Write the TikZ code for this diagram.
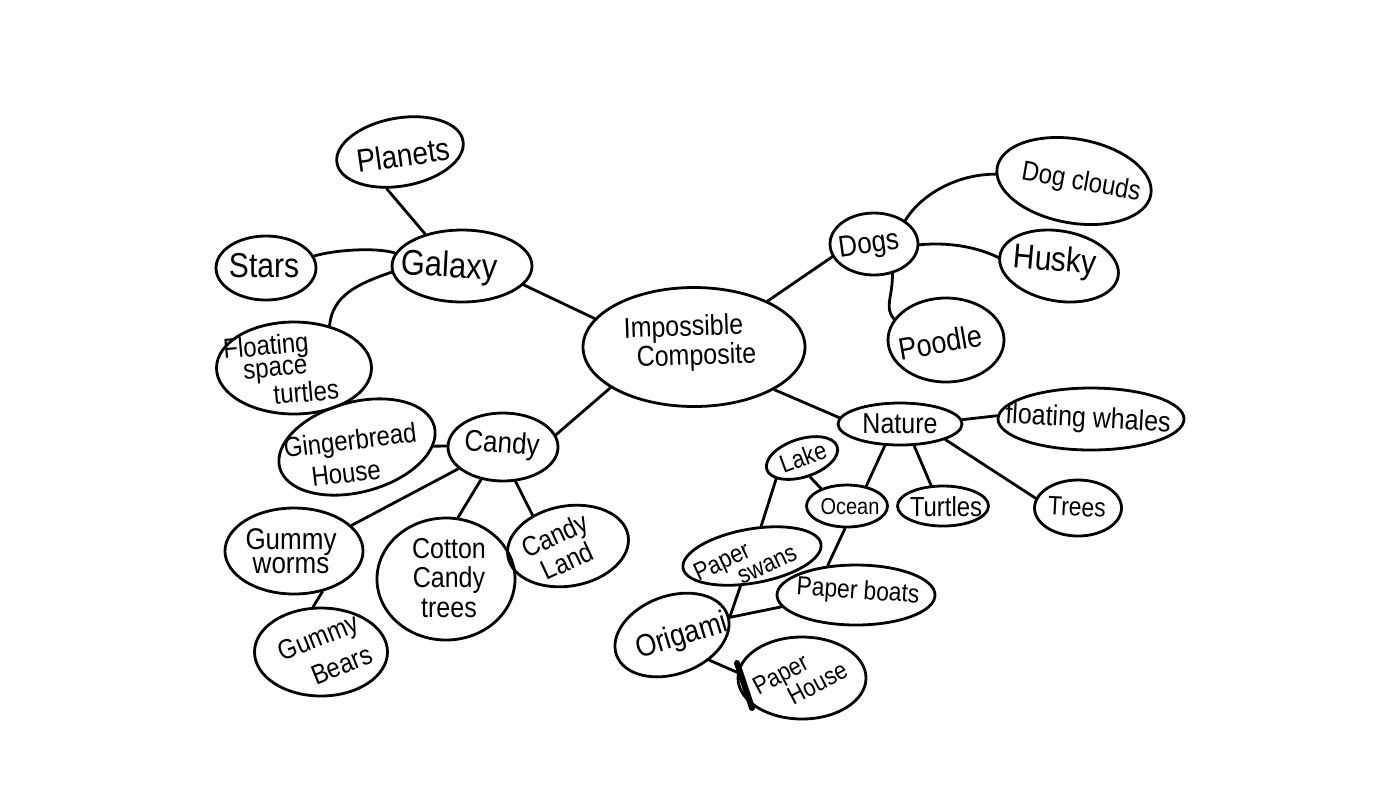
\documentclass[tikz,border=0pt]{standalone}
\usepackage{fontspec}
\setmainfont{Liberation Sans}
\usetikzlibrary{shapes.geometric}
\begin{document}
\begin{tikzpicture}[x=0.5pt,y=-0.5pt,
  bub/.style 2 args={draw, ellipse, line width=1.4pt, inner sep=0pt,
    minimum width={#1*0.5pt}, minimum height={#2*0.5pt}},
  txt/.style={inner sep=0pt, font=\fontsize{#1}{#1}\selectfont},
  txtb/.style 2 args={inner sep=0pt, font=\fontsize{#1}{#2}\selectfont},
  tall/.style={yscale=1.15},
  con/.style={line width=1.4pt, line cap=round}]
\fill[white] (0,0) rectangle (1400,800);
\useasboundingbox (0,0) rectangle (1400,800);

% bubbles
\node[bub={222}{119}] (imp) at (694,347) {};
\node[bub={140}{72}] (galaxy) at (462,266) {};
\node[bub={128}{68}, rotate=10] (planets) at (400,152) {};
\node[bub={100}{64}] (stars) at (266,268) {};
\node[bub={155}{92}] (fst) at (294,368) {};
\node[bub={110}{68}] (candy) at (503,447) {};
\node[bub={160}{90}, rotate=15] (ginger) at (357,447) {};
\node[bub={138}{86}] (worms) at (294,551) {};
\node[bub={133}{88}] (bears) at (321,652) {};
\node[bub={138}{122}] (cotton) at (446,579) {};
\node[bub={122}{80}, rotate=10] (candyland) at (568,546) {};
\node[bub={88}{62}] (dogs) at (874,244) {};
\node[bub={156}{84}, rotate=-10] (dogclouds) at (1074,181) {};
\node[bub={120}{70}, rotate=-10] (husky) at (1059,266) {};
\node[bub={116}{84}] (poodle) at (946,340) {};
\node[bub={124}{42}] (nature) at (900,424) {};
\node[bub={186}{62}] (whales) at (1091,419) {};
\node[bub={87}{56}] (trees) at (1078,508) {};
\node[bub={91}{40}] (turtles) at (943,506) {};
\node[bub={81}{42}] (ocean) at (847,506) {};
\node[bub={74}{38}, rotate=18] (lake) at (802,458) {};
\node[bub={140}{54}, rotate=10] (swans) at (752,556) {};
\node[bub={158}{60}] (boats) at (856,595) {};
\node[bub={118}{78}, rotate=20] (origami) at (672,635) {};
\node[bub={128}{82}] (house) at (802,678) {};

% texts
\node[txtb={12.5}{11.5}, align=left, rotate=2, tall] (impT) at (690,343)
  {Impossible\\\hspace*{6pt}Composite};
\node[txt=15.5, rotate=-3, tall] (galaxyT) at (449,268) {Galaxy};
\node[txt=14, rotate=8, tall] (planetsT) at (403,155) {Planets};
\node[txt=15, tall] (starsT) at (264,266) {Stars};
\node[txtb={12}{9.5}, align=left, rotate=5, tall] (fstT) at (281,369)
  {Floating\\\hspace*{9pt}space\\\hspace*{23pt}turtles};
\node[txt=13, rotate=-4, tall] (candyT) at (502,445) {Candy};
\node[txtb={12}{14}, align=left, rotate=7, tall] (gingerT) at (352,456)
  {Gingerbread\\\hspace*{12pt}House};
\node[txtb={13}{9.5}, align=center, tall] (wormsT) at (291,551) {Gummy\\worms};
\node[txtb={12}{14.8}, align=left, rotate=22, tall] (bearsT) at (325,653)
  {Gummy\\\hspace*{11pt}Bears};
\node[txtb={12.5}{12.8}, align=center, tall] (cottonT) at (449,578)
  {Cotton\\Candy\\trees};
\node[txtb={12}{10.4}, align=center, rotate=25, tall] (clT) at (561,548) {Candy\\Land};
\node[txt=13, rotate=8, tall] (dogsT) at (869,246) {Dogs};
\node[txt=12, rotate=-10, tall] (dogcloudsT) at (1081,183) {Dog clouds};
\node[txt=15, rotate=-5, tall] (huskyT) at (1055,262) {Husky};
\node[txt=13.5, rotate=10, tall] (poodleT) at (940,342) {Poodle};
\node[txt=12.5, tall] (natureT) at (900,424) {Nature};
\node[txt=12.5, rotate=-3, tall] (whalesT) at (1088,420) {floating whales};
\node[txt=11.5, rotate=-3, tall] (treesT) at (1077,507) {Trees};
\node[txt=12, tall] (turtlesT) at (946,507) {Turtles};
\node[txt=10, tall] (oceanT) at (850,507) {Ocean};
\node[txt=11, rotate=20, tall] (lakeT) at (803,457) {Lake};
\node[txtb={11}{9.4}, align=left, rotate=25, tall] (swansT) at (745,562)
  {Paper\\\hspace*{19pt}swans};
\node[txt=11.4, rotate=-4, tall] (boatsT) at (858,592) {Paper boats};
\node[txt=13.5, rotate=17, tall] (origamiT) at (682,637) {Origami};
\node[txtb={11}{11}, align=left, rotate=28, tall] (houseT) at (800,678)
  {Paper\\\hspace*{13pt}House};

% connectors
\draw[con] (imp.164) -- (galaxy.-17);
\draw[con] (imp.32) -- (dogs.197);
\draw[con] (imp.206) -- (candy.13);
\draw[con] (imp.-28) -- (nature.174);
\draw[con] (galaxy.139) -- (planets.-120);
\draw[con] (stars.14) .. controls +(20,-6) and +(-20,-6) .. (galaxy.169);
\draw[con] (galaxy.185) .. controls +(-35,12) and +(3,-30) .. (fst.50);
\draw[con] (candy.179) -- (ginger);
\draw[con] (candy.206) -- (worms.24);
\draw[con] (candy.-124) -- (cotton.79);
\draw[con] (candy.-70) -- (candyland.129);
\draw[con] (worms.-55) -- (bears.100);
\draw[con] (dogs.37) .. controls +(15,-25) and +(-40,0) .. (dogclouds.185);
\draw[con] (dogs.-1) .. controls +(30,-3) and +(-20,-10) .. (husky.182);
\draw[con] (dogs.-58) .. controls +(0,25) and +(-10,-12) .. (poodle.158);
\draw[con] (nature.4) -- (whales.178);
\draw[con] (nature.-19) -- (trees.167);
\draw[con] (nature.-57) -- (turtles.120);
\draw[con] (nature.-125) -- (ocean.46);
\draw[con] (lake.-85) -- (ocean.146);
\draw[con] (lake.201) -- (swans.63);
\draw[con] (ocean.-95) -- (boats.134);
\draw[con] (swans.-121) -- (origami.-3);
\draw[con] (boats.189) -- (origami.-3);
\draw[con] (origami.-54) -- (house.175);
\coordinate (barA) at (737,663);
\coordinate (barB) at (752,708);
\draw[line width=3pt, line cap=round] (barA) -- (barB);
\end{tikzpicture}
\end{document}
